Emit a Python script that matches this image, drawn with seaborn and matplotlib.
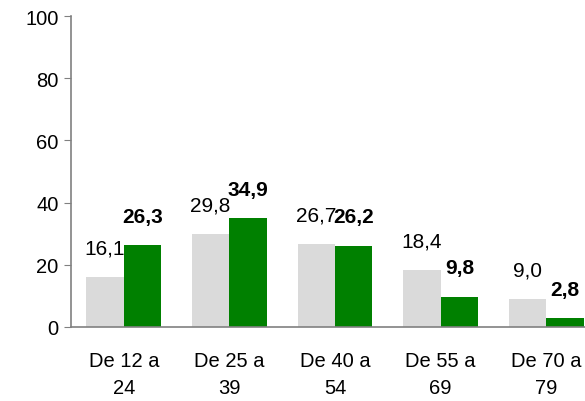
import numpy as np
import pandas as pd
import seaborn as sns
import matplotlib.pyplot as plt

# data
categories = ["De 12 a\n24", "De 25 a\n39", "De 40 a\n54", "De 55 a\n69", "De 70 a\n79"]
serie_gris = [16.1, 29.8, 26.7, 18.4, 9.0]
serie_verde = [26.3, 34.9, 26.2, 9.8, 2.8]
series = ["gris", "verde"]
yticks = [0, 20, 40, 60, 80, 100]

df = pd.DataFrame({
    "cat": categories * 2,
    "serie": [series[0]] * 5 + [series[1]] * 5,
    "valor": serie_gris + serie_verde,
})

sns.set_style("white")
plt.rcParams['font.family'] = ['Liberation Sans', 'DejaVu Sans']
plt.rcParams['text.color'] = 'black'
plt.rcParams['xtick.labelcolor'] = 'black'
plt.rcParams['ytick.labelcolor'] = 'black'

fig = plt.figure(figsize=(5.85, 4.02), dpi=100)
ax = fig.add_axes([71 / 585, 74 / 402, 528 / 585, 311 / 402])

sns.barplot(data=df, x="cat", y="valor", hue="serie", order=categories,
            palette=["#dadada", "#008000"], width=0.71, saturation=1,
            linewidth=0, legend=False, ax=ax)

# value labels
for i, cont in enumerate(ax.containers):
    for bar, v in zip(cont, [serie_gris, serie_verde][i]):
        ax.annotate(f"{v:.1f}".replace(".", ","),
                    (bar.get_x() + bar.get_width() / 2, bar.get_height()),
                    xytext=(0, 14), textcoords="offset points",
                    ha="center", va="bottom", fontsize=15, color="black",
                    fontweight="bold" if i == 1 else "normal")

ax.set_ylim(0, 100)
ax.set_xlim(-0.5, 4.5)
ax.set_yticks(yticks)
ax.set_yticklabels([str(t) for t in yticks], fontsize=14.5)
ax.set_xticks(range(5))
ax.set_xticklabels(categories, fontsize=14.5, linespacing=1.55)
ax.set_xticks(np.arange(-0.5, 5, 1), minor=True)
ax.tick_params(axis="x", which="major", length=0, pad=17)
ax.tick_params(axis="x", which="minor", length=5, color="#808080", direction="out")
ax.tick_params(axis="y", length=5, color="#808080", direction="out", left=True, pad=4)
ax.set_xlabel("")
ax.set_ylabel("")
for s in ["top", "right"]:
    ax.spines[s].set_visible(False)
for s in ["left", "bottom"]:
    ax.spines[s].set_color("#808080")
    ax.spines[s].set_linewidth(1.2)

fig.savefig("out.png", dpi=100)
